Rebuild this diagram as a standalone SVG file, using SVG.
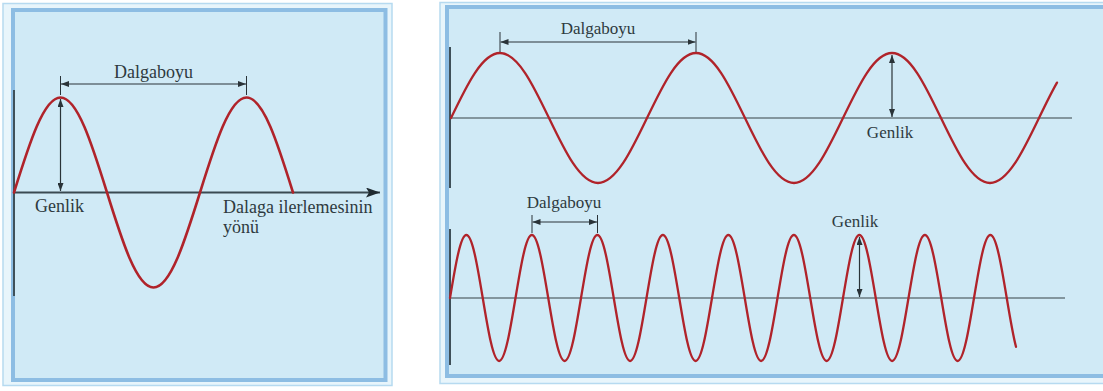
<svg xmlns="http://www.w3.org/2000/svg" width="1103" height="391" viewBox="0 0 1103 391">
<style>
.bg{fill:#ffffff}
.outer{fill:#e8f5fb;stroke:#b6daf0;stroke-width:1.5}
.band{fill:#d0eaf6;stroke:#8dbde3;stroke-width:4}
.wave{fill:none;stroke:#b0232a;stroke-width:2.6;stroke-linecap:round;stroke-linejoin:round}
.waveR{fill:none;stroke:#b0232a;stroke-width:2.3;stroke-linecap:round;stroke-linejoin:round}
.axisL{stroke:#3a4a52;stroke-width:1.8;fill:none}
.axisR{stroke:#6a7a80;stroke-width:1.6;fill:none}
.vert{stroke:#3f5058;stroke-width:2;fill:none}
.dim{stroke:#2a3338;stroke-width:1.2;fill:none}
.tick{stroke:#2a3338;stroke-width:1;fill:none}
.lbl{font-family:"Liberation Serif","Times New Roman",serif;fill:#2e3a40}
</style>
<defs>
<marker id="ah" viewBox="0 0 8 6" refX="8" refY="3" markerWidth="8" markerHeight="6" markerUnits="userSpaceOnUse" orient="auto-start-reverse">
<path d="M0,0 L8,3 L0,6 z" fill="#2a3338"/>
</marker>
<marker id="bigah" viewBox="0 0 14 10" refX="14" refY="5" markerWidth="14" markerHeight="10" markerUnits="userSpaceOnUse" orient="auto">
<path d="M0,0 L14,5 L0,10 L3,5 z" fill="#1f2a30"/>
</marker>
</defs>
<rect class="bg" x="0" y="0" width="1103" height="391"/>

<g id="panel-left">
<rect class="outer" x="3" y="3.5" width="389" height="382"/>
<rect class="band" x="13" y="10" width="372.5" height="370"/>
<line class="vert" x1="14" y1="90" x2="14" y2="296"/>
<line class="axisL" x1="14" y1="192.5" x2="380" y2="192.5" marker-end="url(#bigah)"/>
<g id="wave-left">
<path class="wave" d="M14,192.5 c15.16,-48.67 29.67,-95 46.5,-95 s31.34,46.33 46.5,95 s29.67,95 46.5,95 s31.34,-46.33 46.5,-95 s29.67,-95 46.5,-95 s31.34,46.33 46.5,95"/>
</g>
<g id="label-left-dalgaboyu"><text class="lbl" x="153.5" y="78" font-size="18" text-anchor="middle">Dalgaboyu</text></g>
<g id="label-left-genlik"><text class="lbl" x="35" y="212" font-size="18">Genlik</text></g>
<g id="label-left-yon"><text class="lbl" x="223" y="213" font-size="18">Dalaga ilerlemesinin</text><text class="lbl" x="223" y="233" font-size="18">yönü</text></g>
</g>

<g id="panel-right">
<rect class="outer" x="440" y="2.5" width="700" height="381"/>
<rect class="band" x="447" y="7" width="700" height="369"/>
<line class="vert" x1="450" y1="47" x2="450" y2="188"/>
<line class="vert" x1="450" y1="229" x2="450" y2="365"/>
<line class="axisR" x1="450" y1="118" x2="1072" y2="118"/>
<line class="axisR" x1="450" y1="298" x2="1065" y2="298"/>
<g id="wave-long">
<path class="waveR" d="M451,118 c15.98,-33.3 31.27,-65 49,-65 s33.02,31.7 49,65 s31.27,65 49,65 s33.02,-31.7 49,-65 s31.27,-65 49,-65 s33.02,31.7 49,65 s31.27,65 49,65 s33.02,-31.7 49,-65 s31.27,-65 49,-65 s33.02,31.7 49,65 s31.27,65 49,65 s33.02,-31.7 49,-65 c6,-12.5 12,-24.9 18,-35.4"/>
</g>
<g id="wave-short">
<path class="waveR" d="M450,298 c5.34,-32.27 10.45,-63 16.375,-63 s11.04,30.73 16.375,63 s10.45,63 16.375,63 s11.04,-30.73 16.375,-63 s10.45,-63 16.375,-63 s11.04,30.73 16.375,63 s10.45,63 16.375,63 s11.04,-30.73 16.375,-63 s10.45,-63 16.375,-63 s11.04,30.73 16.375,63 s10.45,63 16.375,63 s11.04,-30.73 16.375,-63 s10.45,-63 16.375,-63 s11.04,30.73 16.375,63 s10.45,63 16.375,63 s11.04,-30.73 16.375,-63 s10.45,-63 16.375,-63 s11.04,30.73 16.375,63 s10.45,63 16.375,63 s11.04,-30.73 16.375,-63 s10.45,-63 16.375,-63 s11.04,30.73 16.375,63 s10.45,63 16.375,63 s11.04,-30.73 16.375,-63 s10.45,-63 16.375,-63 s11.04,30.73 16.375,63 s10.45,63 16.375,63 s11.04,-30.73 16.375,-63 s10.45,-63 16.375,-63 s11.04,30.73 16.375,63 s10.45,63 16.375,63 s11.04,-30.73 16.375,-63 s10.45,-63 16.375,-63 s11.04,30.73 16.375,63 c3.083,18.63 6.167,37.03 9.25,48.8"/>
</g>
<g id="label-right-dalgaboyu-top"><text class="lbl" x="598" y="34" font-size="17" text-anchor="middle">Dalgaboyu</text></g>
<g id="label-right-genlik-top"><text class="lbl" x="890" y="138" font-size="17" text-anchor="middle">Genlik</text></g>
<g id="label-right-dalgaboyu-bottom"><text class="lbl" x="564" y="208" font-size="17" text-anchor="middle">Dalgaboyu</text></g>
<g id="label-right-genlik-bottom"><text class="lbl" x="855" y="227" font-size="17" text-anchor="middle">Genlik</text></g>
</g>

<g id="connectors">
<line class="tick" x1="60.5" y1="76" x2="60.5" y2="95"/>
<line class="tick" x1="246.5" y1="76" x2="246.5" y2="95"/>
<line class="dim" x1="61" y1="84" x2="246" y2="84" marker-start="url(#ah)" marker-end="url(#ah)"/>
<line class="dim" x1="60.5" y1="99" x2="60.5" y2="191" marker-start="url(#ah)" marker-end="url(#ah)"/>
<line class="tick" x1="500" y1="32" x2="500" y2="52"/>
<line class="tick" x1="696" y1="32" x2="696" y2="52"/>
<line class="dim" x1="500.5" y1="42" x2="695.5" y2="42" marker-start="url(#ah)" marker-end="url(#ah)"/>
<line class="dim" x1="892" y1="55" x2="892" y2="117" marker-start="url(#ah)" marker-end="url(#ah)"/>
<line class="tick" x1="532" y1="215" x2="532" y2="233"/>
<line class="tick" x1="597.5" y1="215" x2="597.5" y2="233"/>
<line class="dim" x1="532.5" y1="222" x2="597" y2="222" marker-start="url(#ah)" marker-end="url(#ah)"/>
<line class="dim" x1="859.5" y1="237" x2="859.5" y2="297" marker-start="url(#ah)" marker-end="url(#ah)"/>
</g>
</svg>
